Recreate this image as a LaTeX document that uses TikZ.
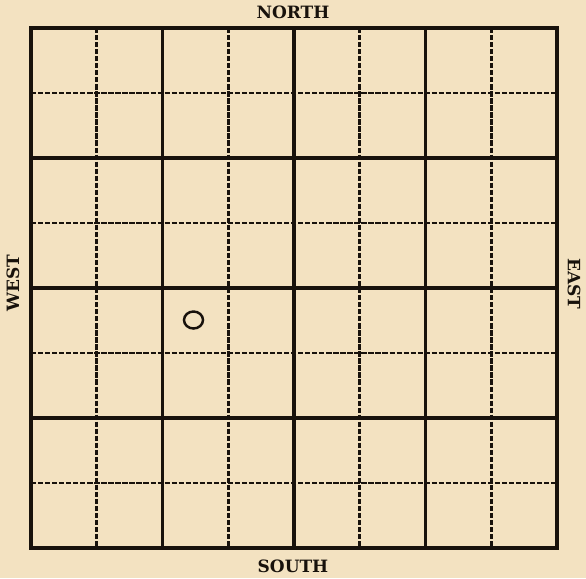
\documentclass[tikz,border=0pt]{standalone}
\usepackage{fontspec}
\setmainfont{DejaVu Serif}
\usepackage{tikz}
\usetikzlibrary{positioning}
\usepackage{xcolor}
\definecolor{paper}{RGB}{243,226,193}
\definecolor{ink}{RGB}{24,18,12}

\begin{document}
\begin{tikzpicture}[
        x=0.03cm, y=-0.03cm,
        frame/.style={draw=ink, line width=4.2pt, line join=miter},
        major/.style={draw=ink, line width=2.8pt},
        minor/.style={draw=ink, line width=2.4pt, dash pattern=on 4.5pt off 1.5pt},
        compass/.style={text=ink, font=\bfseries\fontsize{14.5}{16}\selectfont, inner sep=0pt}
    ]
    % ---- papel ----
    \fill[paper] (0,0) rectangle (586,578);
    \useasboundingbox (0,0) rectangle (586,578);

    % ---- linhas tracejadas ----
    \draw[minor] (96.75,28) -- (96.75,548);
    \draw[minor] (228.25,28) -- (228.25,548);
    \draw[minor] (359.75,28) -- (359.75,548);
    \draw[minor] (491.25,28) -- (491.25,548);
    \draw[minor] (31,93) -- (557,93);
    \draw[minor] (31,223) -- (557,223);
    \draw[minor] (31,353) -- (557,353);
    \draw[minor] (31,483) -- (557,483);

    % ---- linhas cheias ----
    \draw[major] (162.5,28) -- (162.5,548);
    \draw[major] (294,28) -- (294,548);
    \draw[major] (425.5,28) -- (425.5,548);
    \draw[major] (31,158) -- (557,158);
    \draw[major] (31,288) -- (557,288);
    \draw[major] (31,418) -- (557,418);

    % ---- moldura ----
    \draw[frame] (31,28) rectangle (557,548);

    % ---- ponto marcado ----
    \draw[ink, line width=2.1pt] (193.5,320) ellipse [x radius=9.5, y radius=8.5];

    % ---- pontos cardeais ----
    \node[compass] (north) at (293,12) {NORTH};
    \node[compass] (south) at (293,566) {SOUTH};
    \node[compass, rotate=90] (west) at (13,283) {WEST};
    \node[compass, rotate=-90] (east) at (574,284) {EAST};

\end{tikzpicture}
\end{document}
